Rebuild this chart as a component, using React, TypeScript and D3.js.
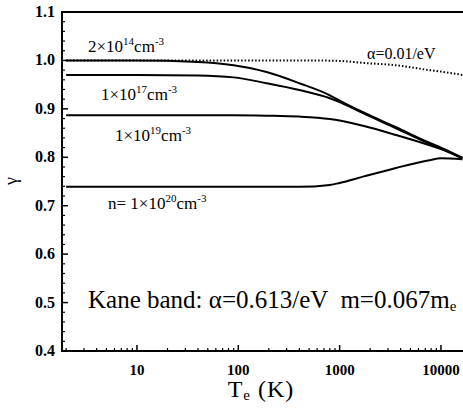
import React from 'react';
import * as d3 from 'd3';

// electron temperature grid (K)
const temps = [2, 10, 40, 90, 190, 400, 800, 1000, 1700, 3600, 7700, 10000, 16300];

// gamma for each density (Kane band, alpha = 0.613/eV)
const gamma2e14 = [1.0, 1.0, 0.997, 0.99, 0.976, 0.953, 0.928, 0.917, 0.893, 0.862, 0.83, 0.82, 0.799];
const gamma1e17 = [0.97, 0.97, 0.969, 0.965, 0.953, 0.939, 0.922, 0.914, 0.891, 0.86, 0.828, 0.818, 0.798];
const gamma1e19 = [0.887, 0.887, 0.887, 0.887, 0.886, 0.884, 0.879, 0.876, 0.865, 0.846, 0.825, 0.817, 0.798];
const gamma1e20 = [0.739, 0.739, 0.739, 0.739, 0.739, 0.739, 0.743, 0.747, 0.76, 0.778, 0.794, 0.798, 0.796];
// alpha = 0.01/eV, dotted
const gammaSmallAlpha = [1.0, 1.0, 1.0, 1.0, 1.0, 1.0, 0.9995, 0.999, 0.995, 0.99, 0.98, 0.977, 0.97];

const xTicks = [10, 100, 1000, 10000];
const yTicks = [0.4, 0.5, 0.6, 0.7, 0.8, 0.9, 1.0, 1.1];

const solidSeries = [gamma2e14, gamma1e17, gamma1e19, gamma1e20];

const serif = { fontFamily: '"Liberation Serif", serif' };

export default function App() {
  const margin = { top: 12, left: 62 };
  const width = 463, height = 408;
  const plotBottom = 351;

  const x = d3.scaleLog().domain([1.82, 16500]).range([margin.left, width]);
  const y = d3.scaleLinear().domain([0.4, 1.1]).range([plotBottom, margin.top]);

  const line = d3.line<number>()
    .x((_, i) => x(temps[i]))
    .y(d => y(d))
    .curve(d3.curveMonotoneX);

  // minor log ticks
  const xMinor: number[] = [];
  for (let dec = 1; dec <= 10000; dec *= 10) {
    for (let k = 2; k <= 9; k++) {
      const v = k * dec;
      if (v >= 1.82 && v <= 16500) xMinor.push(v);
    }
  }
  const yMinor = d3.range(0.4, 1.1001, 0.02).filter(v => Math.abs(v * 10 - Math.round(v * 10)) > 0.01);

  const sup = (s: string) => <tspan fontSize={11} dy={-7}>{s}</tspan>;

  return (
    <svg width={width} height={height} style={{ position: 'absolute', left: 0, top: 0, background: '#fff' }}>
      {/* frame */}
      <line x1={margin.left} x2={width} y1={margin.top} y2={margin.top} stroke="#000" strokeWidth={2} />
      <line x1={margin.left} x2={margin.left} y1={margin.top - 1} y2={plotBottom + 1} stroke="#000" strokeWidth={2} />
      <line x1={margin.left - 1} x2={width} y1={plotBottom} y2={plotBottom} stroke="#000" strokeWidth={2} />

      {/* y ticks */}
      {yTicks.map(t => (
        <g key={'y' + t}>
          <line x1={margin.left} x2={margin.left + 6} y1={y(t)} y2={y(t)} stroke="#000" strokeWidth={1.5} />
          <text x={55} y={y(t) + 5} textAnchor="end" style={serif} fontWeight="bold" fontSize={16}>
            {t.toFixed(1)}
          </text>
        </g>
      ))}
      {yMinor.map(t => (
        <line key={'ym' + t} x1={margin.left} x2={margin.left + 3} y1={y(t)} y2={y(t)} stroke="#000" strokeWidth={1.2} />
      ))}

      {/* x ticks */}
      {xTicks.map(t => (
        <g key={'x' + t}>
          <line x1={x(t)} x2={x(t)} y1={plotBottom} y2={plotBottom - 6} stroke="#000" strokeWidth={1.5} />
          <text x={x(t)} y={375} textAnchor="middle" style={serif} fontWeight="bold" fontSize={15}>
            {t}
          </text>
        </g>
      ))}
      {xMinor.map(t => (
        <line key={'xm' + t} x1={x(t)} x2={x(t)} y1={plotBottom} y2={plotBottom - 3} stroke="#000" strokeWidth={1.2} />
      ))}

      {/* curves */}
      {solidSeries.map((s, i) => (
        <path key={'s' + i} d={line(s) || ''} fill="none" stroke="#000" strokeWidth={2} />
      ))}
      <path d={line(gammaSmallAlpha) || ''} fill="none" stroke="#000" strokeWidth={2} strokeDasharray="1.5,2" />

      {/* curve labels */}
      <g fill="#000">
        <text x={88} y={52} fontSize={17} style={serif}>
          2×10{sup('14')}<tspan dy={7}>cm</tspan>{sup('-3')}
        </text>
        <text x={101} y={100} fontSize={17} style={serif}>
          1×10{sup('17')}<tspan dy={7}>cm</tspan>{sup('-3')}
        </text>
        <text x={115} y={141} fontSize={17} style={serif}>
          1×10{sup('19')}<tspan dy={7}>cm</tspan>{sup('-3')}
        </text>
        <text x={108} y={209} fontSize={17} style={serif}>
          n= 1×10{sup('20')}<tspan dy={7}>cm</tspan>{sup('-3')}
        </text>
        <text x={367} y={59} fontSize={16} style={serif}>α=0.01/eV</text>
        <text x={88} y={308} fontSize={25} style={{ ...serif, whiteSpace: 'pre' }}>
          {'Kane band: α=0.613/eV  m=0.067m'}<tspan fontSize={15} dy={3}>e</tspan>
        </text>
      </g>

      {/* axis titles */}
      <text transform="translate(17,181) rotate(-90)" textAnchor="middle" style={serif} fontSize={18}>γ</text>
      <text x={261} y={397} textAnchor="middle" style={{ ...serif, letterSpacing: 1 }} fontSize={24}>
        T<tspan fontSize={15} dy={3}>e</tspan><tspan dy={-3}> (K)</tspan>
      </text>
    </svg>
  );
}
